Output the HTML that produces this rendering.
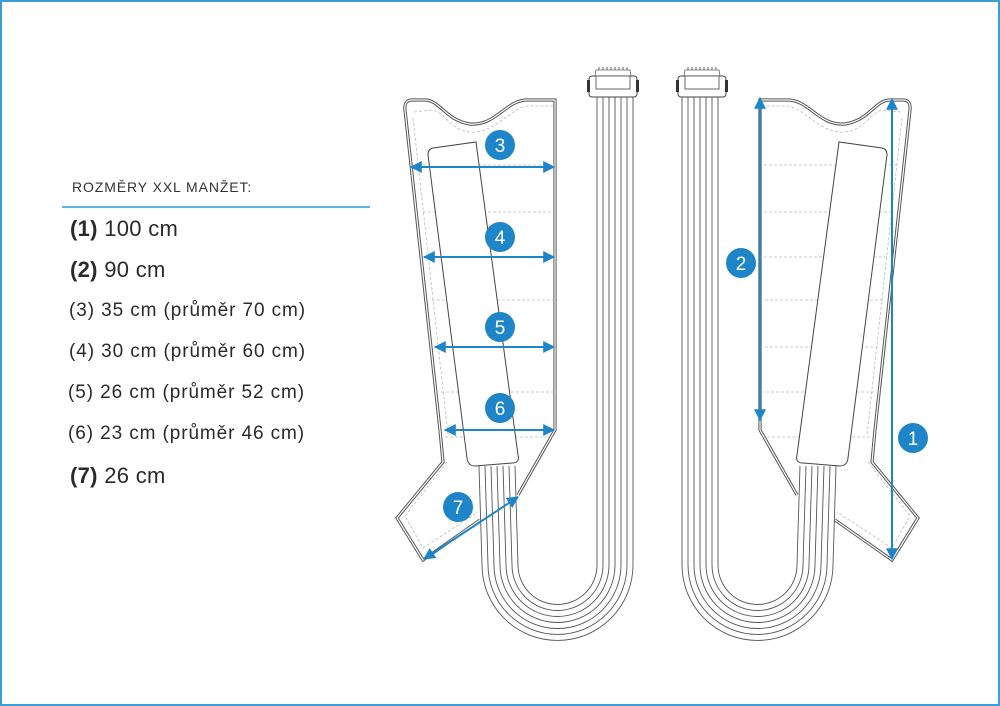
<!DOCTYPE html>
<html><head><meta charset="utf-8"><style>
html,body{margin:0;padding:0;background:#fff}
.f{position:absolute;left:0;top:0;width:996px;height:702px;border:2px solid #3a9fd5}
.t{position:absolute;font-family:"Liberation Sans",sans-serif;color:#2a2a2a;white-space:nowrap}
.m{font-size:19px;letter-spacing:0.9px}
.b{font-size:22px;letter-spacing:0.3px}
</style></head><body>
<div class="f"></div>
<div class="t" style="left:72px;top:179px;font-size:14px;letter-spacing:0.9px;color:#333">ROZMĚRY XXL MANŽET:</div>
<div style="position:absolute;left:62px;top:206px;width:308px;height:2px;background:#5ab4e0"></div>
<div class="t b" style="left:70px;top:216px"><b>(1)</b> 100 cm</div>
<div class="t b" style="left:70px;top:257px"><b>(2)</b> 90 cm</div>
<div class="t m" style="left:69px;top:300px">(3) 35 cm (průměr 70 cm)</div>
<div class="t m" style="left:69px;top:341px">(4) 30 cm (průměr 60 cm)</div>
<div class="t m" style="left:68px;top:382px">(5) 26 cm (průměr 52 cm)</div>
<div class="t m" style="left:68px;top:423px">(6) 23 cm (průměr 46 cm)</div>
<div class="t b" style="left:70px;top:463px"><b>(7)</b> 26 cm</div>
<svg width="1000" height="706" style="position:absolute;left:0;top:0" xmlns="http://www.w3.org/2000/svg">
<defs>
<g id="cuff" fill="none">
  <path d="M412,100 L425,100 C440,100 445,120 470,124 C495,126 505,102 525,100 L555,100 L555,430 L518,495 M480,520 L423,560 L397,518 L443,462 L440,430 L405,110 Q404,100 412,100" stroke="#555" stroke-width="3.2"/>
  <path d="M412,100 L425,100 C440,100 445,120 470,124 C495,126 505,102 525,100 L555,100 L555,430 L518,495 M480,520 L423,560 L397,518 L443,462 L440,430 L405,110 Q404,100 412,100" stroke="#fff" stroke-width="1.2"/>
  <path d="M414,112 L432,110 C445,112 450,130 470,132 C495,134 510,108 528,106 L553,106 M413,118 L448,435 M447,462 L405,516 L423,548 L478,512" stroke="#bbb" stroke-dasharray="3,2" stroke-width="0.8"/>
  <g stroke="#bbb" stroke-dasharray="3,2" stroke-width="0.8">
    <line x1="418" y1="165" x2="555" y2="165"/><line x1="423" y1="212" x2="555" y2="212"/>
    <line x1="428" y1="257" x2="555" y2="257"/><line x1="432" y1="300" x2="555" y2="300"/>
    <line x1="437" y1="347" x2="555" y2="347"/><line x1="441" y1="392" x2="555" y2="392"/>
    <line x1="445" y1="437" x2="555" y2="437"/>
  </g>
  <path d="M433,148 L476,142 L518,455 Q520,463 512,463 L475,466 Q468,466 467,458 L428,155 Q428,149 433,148 Z" stroke="#444" stroke-width="1" fill="#fff"/>
  <g stroke="#555" stroke-width="0.9">
    <path d="M479,466 L482,565 A75.5,75.5 0 0 0 633,565 L633,97"/>
    <path d="M485,466 L488,565 A69.5,69.5 0 0 0 627,565 L627,97"/>
    <path d="M491,466 L494,565 A63.5,63.5 0 0 0 621,565 L621,97"/>
    <path d="M497,466 L500,565 A57.5,57.5 0 0 0 615,565 L615,97"/>
    <path d="M503,466 L506,565 A51.5,51.5 0 0 0 609,565 L609,97"/>
    <path d="M509,466 L512,565 A45.5,45.5 0 0 0 603,565 L603,97"/>
    <path d="M515,466 L518,565 A39.5,39.5 0 0 0 597,565 L597,97"/>
  </g>
  <rect x="589" y="76" width="48" height="21" rx="3" fill="#fff" stroke="#444"/>
  <rect x="596" y="76" width="34" height="13" fill="#fff" stroke="#444" stroke-width="0.8"/>
  <path d="M595,76 L596,70 L630,70 L631,76" stroke="#666" stroke-width="0.8"/>
  <path d="M599,70 v-3 M603,70 v-3 M607,70 v-3 M611,70 v-3 M615,70 v-3 M619,70 v-3 M623,70 v-3 M627,70 v-3" stroke="#666"/>
  <rect x="587" y="80" width="3" height="12" fill="#333"/><rect x="636" y="80" width="3" height="12" fill="#333"/>
</g>
<marker id="a" viewBox="0 0 10 10" refX="9" refY="5" markerWidth="6.5" markerHeight="6" orient="auto-start-reverse"><path d="M0,0 L10,5 L0,10 Z" fill="#1e86c8"/></marker>
</defs>
<use href="#cuff"/>
<use href="#cuff" transform="translate(1315,0) scale(-1,1)"/>
<g stroke="#1e86c8" stroke-width="2" marker-start="url(#a)" marker-end="url(#a)">
  <line x1="411" y1="167" x2="554" y2="167"/>
  <line x1="424" y1="257" x2="554" y2="257"/>
  <line x1="435" y1="347" x2="554" y2="347"/>
  <line x1="445" y1="430" x2="554" y2="430"/>
  <line x1="424" y1="559" x2="518" y2="497"/>
  <line x1="760" y1="98" x2="760" y2="420"/>
  <line x1="892" y1="99" x2="892" y2="559"/>
</g>
<g fill="#1e86c8"><circle cx="500" cy="145" r="15"/><circle cx="500" cy="237" r="15"/><circle cx="500" cy="327" r="15"/><circle cx="500" cy="408" r="15"/><circle cx="458" cy="507" r="15"/><circle cx="741" cy="263" r="15"/><circle cx="913" cy="438" r="15"/></g>
<g fill="#fff" font-family="Liberation Sans,sans-serif" font-size="19" text-anchor="middle">
<text x="500" y="152">3</text><text x="500" y="244">4</text><text x="500" y="334">5</text><text x="500" y="415">6</text><text x="458" y="514">7</text><text x="741" y="270">2</text><text x="913" y="445">1</text></g>
</svg>
</body></html>
